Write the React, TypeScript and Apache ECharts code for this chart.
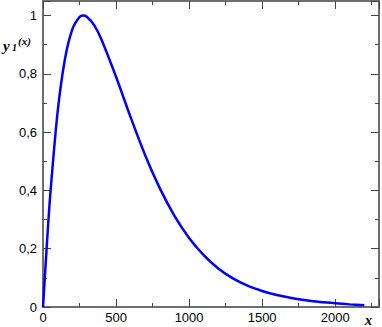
import React, { useEffect, useRef } from "react";
import * as echarts from "echarts";

const xValues = [0, 10, 25, 50, 100, 150, 200, 250, 275, 300, 350, 400, 500, 600, 700, 800, 900, 1000, 1100, 1200, 1300, 1400, 1500, 1600, 1700, 1800, 1900, 2000, 2100, 2200];
const yValues = [0, 0.081, 0.203, 0.387, 0.669, 0.85, 0.952, 0.995, 1.0, 0.996, 0.967, 0.918, 0.79, 0.651, 0.52, 0.407, 0.3125, 0.237, 0.178, 0.132, 0.098, 0.073, 0.055, 0.041, 0.031, 0.023, 0.017, 0.013, 0.009, 0.006];

const X_MIN = 0;
const X_MAX = 2300;
const X_MAJOR = 500;
const X_MINOR = 250;
const Y_MIN = 0;
const Y_MAX = 1.05;
const Y_MAJOR = 0.2;
const Y_MINOR = 0.1;

const AXIS_COLOR = "#6e6e6e";
const LABEL_FONT = "Liberation Sans, Arial, sans-serif";

function fmtY(v: number): string {
  const r = Math.round(v * 10) / 10;
  if (Math.abs(r / Y_MAJOR - Math.round(r / Y_MAJOR)) > 1e-6 || Math.abs(v - r) > 1e-6) return "";
  return String(r).replace(".", ",");
}
function fmtX(v: number): string {
  return v % X_MAJOR === 0 ? String(v) : "";
}

export default function App() {
  const ref = useRef<HTMLDivElement>(null);
  useEffect(() => {
    if (!ref.current) return;
    document.body.style.margin = "0";
    const chart = echarts.init(ref.current, null, { renderer: "svg" });
    const xAxisBase = (position: "bottom" | "top", interval: number, len: number, labels: boolean, line: boolean) => ({
      type: "value",
      position,
      min: X_MIN,
      max: X_MAX,
      interval,
      axisLine: { show: line, onZero: false, lineStyle: { color: AXIS_COLOR, width: 2 } },
      axisTick: { show: true, inside: true, length: len, lineStyle: { color: "#444", width: 1 } },
      axisLabel: labels
        ? { show: true, formatter: fmtX, color: "#000", fontSize: 13, fontFamily: LABEL_FONT, margin: 4 }
        : { show: false },
      splitLine: { show: false },
    });
    const yAxisBase = (position: "left" | "right", interval: number, len: number, labels: boolean, line: boolean) => ({
      type: "value",
      position,
      min: Y_MIN,
      max: Y_MAX,
      interval,
      axisLine: { show: line, onZero: false, lineStyle: { color: AXIS_COLOR, width: 2 } },
      axisTick: { show: true, inside: true, length: len, lineStyle: { color: "#444", width: 1 } },
      axisLabel: labels
        ? { show: true, formatter: fmtY, color: "#000", fontSize: 13, fontFamily: LABEL_FONT, margin: 6 }
        : { show: false },
      splitLine: { show: false },
    });
    chart.setOption({
      animation: false,
      grid: { left: 43, right: 3, top: 1, bottom: 20, containLabel: false },
      xAxis: [
        xAxisBase("bottom", X_MAJOR, 8, true, true),
        xAxisBase("bottom", X_MINOR, 4, false, false),
        xAxisBase("top", X_MAJOR, 8, false, true),
        xAxisBase("top", X_MINOR, 4, false, false),
      ],
      yAxis: [
        yAxisBase("left", Y_MAJOR, 8, true, true),
        yAxisBase("left", Y_MINOR, 4, false, false),
        yAxisBase("right", Y_MAJOR, 8, false, true),
        yAxisBase("right", Y_MINOR, 4, false, false),
      ],
      series: [
        {
          type: "line",
          xAxisIndex: 0,
          yAxisIndex: 0,
          data: xValues.map((x, i) => [x, yValues[i]]),
          smooth: 0.3,
          showSymbol: false,
          lineStyle: { color: "#0000ff", width: 2.5 },
          itemStyle: { color: "#0000ff" },
        },
      ],
      graphic: [
        {
          type: "text",
          left: 3,
          top: 38,
          style: {
            text: "y",
            fontFamily: "Liberation Serif, serif",
            fontStyle: "italic",
            fontWeight: "bold",
            fontSize: 15,
            fill: "#000",
          },
        },
        {
          type: "text",
          left: 12,
          top: 42,
          style: {
            text: "1",
            fontFamily: "Liberation Serif, serif",
            fontStyle: "italic",
            fontWeight: "bold",
            fontSize: 10,
            fill: "#000",
          },
        },
        {
          type: "text",
          left: 18,
          top: 35,
          style: {
            text: "(x)",
            fontFamily: "Liberation Serif, serif",
            fontStyle: "italic",
            fontWeight: "bold",
            fontSize: 11,
            fill: "#000",
          },
        },
        {
          type: "text",
          left: 365,
          top: 313,
          style: {
            text: "x",
            fontFamily: "Liberation Serif, serif",
            fontStyle: "italic",
            fontWeight: "bold",
            fontSize: 14,
            fill: "#000",
          },
        },
      ],
    });
    return () => chart.dispose();
  }, []);
  return <div ref={ref} style={{ width: 382, height: 327 }} />;
}
